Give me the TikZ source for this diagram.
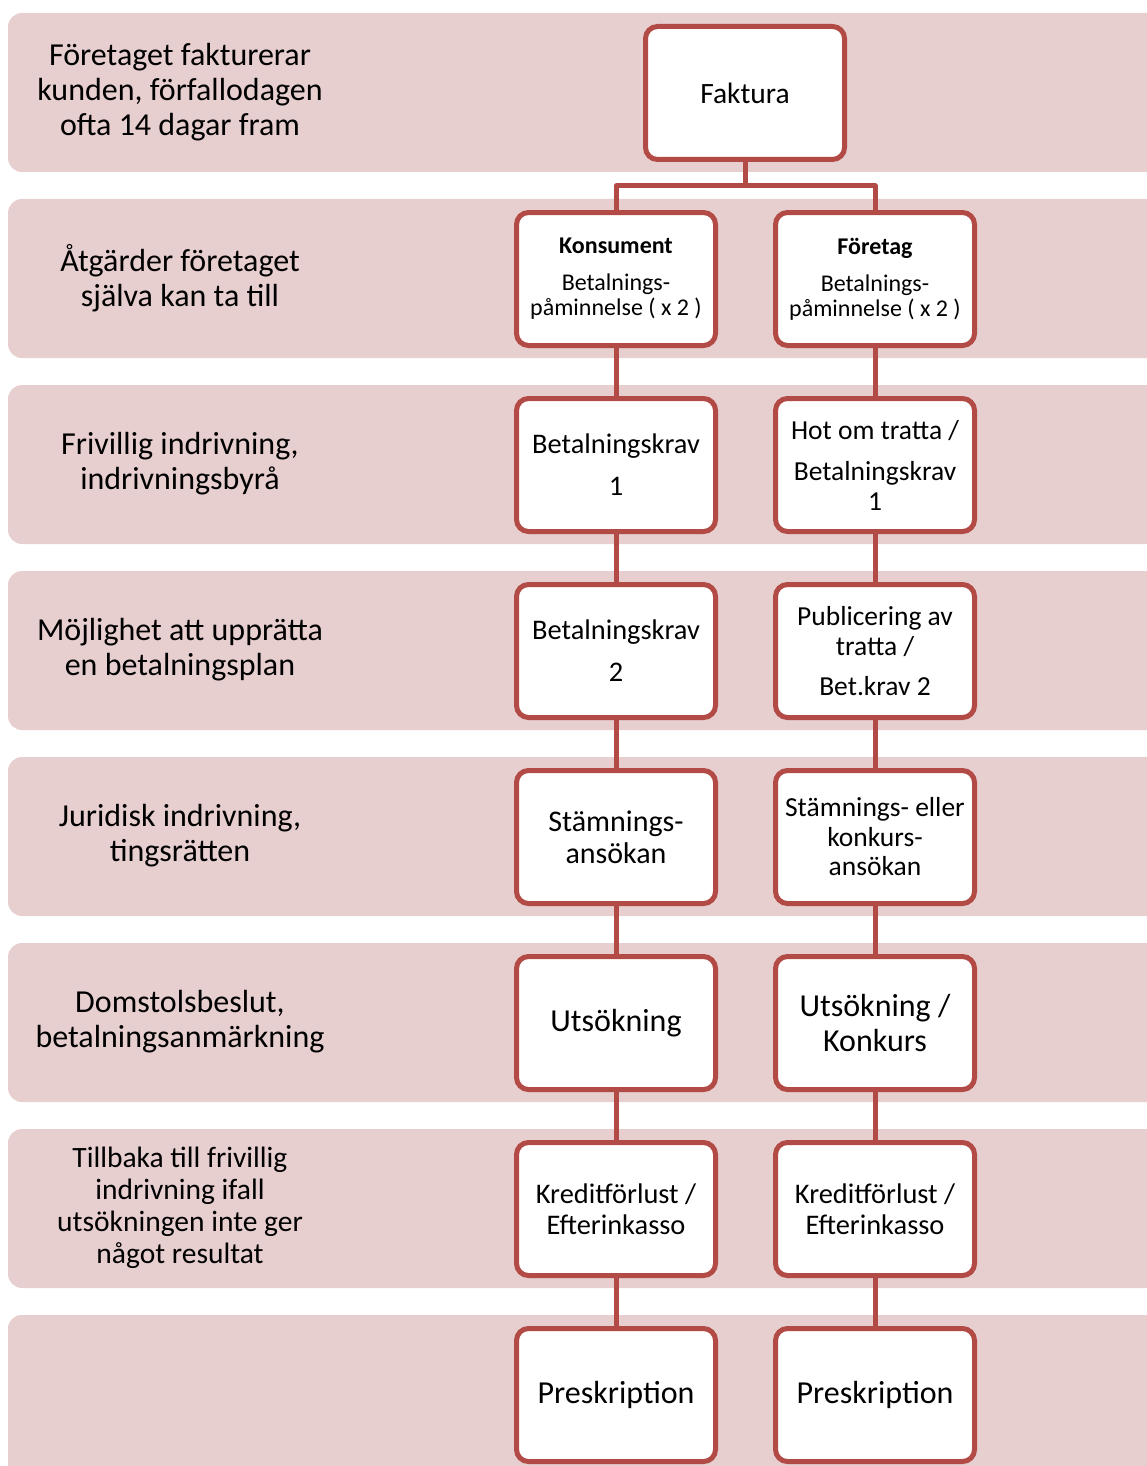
\documentclass[tikz,border=0pt]{standalone}
\usepackage{fontspec}
\setmainfont{Carlito}
\usepackage{tikz}
\usetikzlibrary{positioning}
\definecolor{bandpink}{RGB}{231,206,207}
\definecolor{boxred}{RGB}{178,74,70}
\newcommand{\fsLbl}{\fontsize{32}{35}\selectfont}
\newcommand{\fsSmall}{\fontsize{24}{25}\selectfont}
\newcommand{\fsMid}{\fontsize{27.5}{30}\selectfont}
\newcommand{\fsBig}{\fontsize{32}{35}\selectfont}

\begin{document}
\begin{tikzpicture}[
    x=1pt, y=-1pt,
    node distance=48pt and 55pt,
    band/.style={fill=bandpink, rounded corners=14pt},
    box/.style={rectangle, draw=boxred, line width=5pt, fill=white,
                rounded corners=12pt, minimum width=199pt,
                minimum height=133pt, align=center, inner sep=2pt},
    lbl/.style={align=center, font=\fsLbl},
    conn/.style={draw=boxred, line width=5pt, line join=round}
]
\useasboundingbox (0,0) rectangle (1147,1466);
\clip (0,0) rectangle (1147,1466);

% background bands
\foreach \i in {0,...,7}
  \fill[band] (8,{13+186*\i}) rectangle (1180,{172+186*\i});
\fill[band] (8,1315) rectangle (1180,1500);

% row labels
\node[lbl] (lbl1) at (180,92)   {Företaget fakturerar\\kunden, förfallodagen\\ofta 14 dagar fram};
\node[lbl] (lbl2) at (180,278)  {Åtgärder företaget\\själva kan ta till};
\node[lbl] (lbl3) at (180,464)  {Frivillig indrivning,\\indrivningsbyrå};
\node[lbl] (lbl4) at (180,650)  {Möjlighet att upprätta\\en betalningsplan};
\node[lbl] (lbl5) at (180,836)  {Juridisk indrivning,\\tingsrätten};
\node[lbl] (lbl6) at (180,1022) {Domstolsbeslut,\\betalningsanmärkning};
\node[lbl, font=\fontsize{29.5}{32}\selectfont] (lbl7) at (180,1208)
  {Tillbaka till frivillig\\indrivning ifall\\utsökningen inte ger\\något resultat};

% flow boxes
\node[box, font=\fontsize{29.5}{32}\selectfont] (faktura) at (745,93) {Faktura};
\node[box, font=\fsSmall] (k1) at (616,279)
  {\textbf{Konsument}\\[12pt]Betalnings-\\påminnelse ( x 2 )};
\node[box, font=\fsSmall, right=of k1] (f1)
  {\textbf{Företag}\\[12pt]Betalnings-\\påminnelse ( x 2 )};

\node[box, font=\fontsize{28.4}{29}\selectfont, below=of k1] (k2) {Betalningskrav\\[13pt]1};
\node[box, font=\fsMid, below=of f1] (f2) {Hot om tratta /\\[11pt]Betalningskrav\\1};

\node[box, font=\fontsize{28.4}{29}\selectfont, below=of k2] (k3) {Betalningskrav\\[13pt]2};
\node[box, font=\fsMid, below=of f2] (f3) {Publicering av\\tratta /\\[10pt]Bet.krav 2};

\node[box, font=\fontsize{30}{32}\selectfont, below=of k3] (k4) {Stämnings-\\ansökan};
\node[box, font=\fontsize{27.5}{29.5}\selectfont, below=of f3] (f4) {Stämnings- eller\\konkurs-\\ansökan};

\node[box, font=\fsBig, below=of k4] (k5) {Utsökning};
\node[box, font=\fsBig, below=of f4] (f5) {Utsökning /\\Konkurs};

\node[box, font=\fontsize{28.4}{31}\selectfont, below=of k5] (k6) {Kreditförlust /\\Efterinkasso};
\node[box, font=\fontsize{28.4}{31}\selectfont, below=of f5] (f6) {Kreditförlust /\\Efterinkasso};

\node[box, font=\fsBig, below=of k6] (k7) {Preskription};
\node[box, font=\fsBig, below=of f6] (f7) {Preskription};

% connectors
\draw[conn] (faktura.south) -- ++(0,24) -| (k1.north);
\draw[conn] (faktura.south) -- ++(0,24) -| (f1.north);
\foreach \a/\b in {k1/k2,k2/k3,k3/k4,k4/k5,k5/k6,k6/k7,
                   f1/f2,f2/f3,f3/f4,f4/f5,f5/f6,f6/f7}
  \draw[conn] (\a) -- (\b);
\end{tikzpicture}
\end{document}
